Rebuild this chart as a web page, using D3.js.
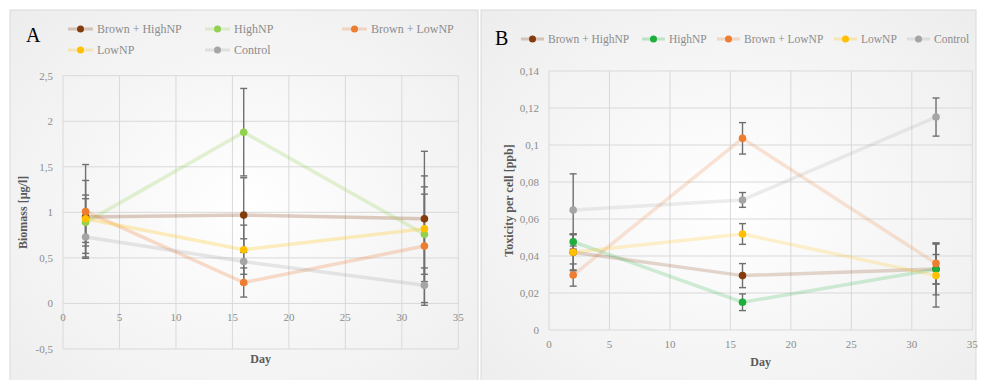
<!DOCTYPE html>
<html>
<head>
<meta charset="utf-8">
<script src="https://cdn.jsdelivr.net/npm/d3@7"></script>
<style>
	body { margin: 0; background: #fff; }
	text { font-family: "Liberation Serif", "DejaVu Serif", serif; }
</style>
</head>
<body>
<div id="chart"></div>
<script>
// sampling days
var days = [2, 16, 32];
var seriesNames = ["Brown + HighNP", "HighNP", "Brown + LowNP", "LowNP", "Control"];

// panel A - biomass [µg/l]
var bioBrownHigh = [0.95, 0.97, 0.93];
var bioHigh      = [0.89, 1.88, 0.76];
var bioBrownLow  = [1.01, 0.23, 0.63];
var bioLow       = [0.93, 0.59, 0.82];
var bioControl   = [0.73, 0.46, 0.20];
var bioErrBrownHigh = [0.40, 0.41, 0.74];
var bioErrHigh      = [0.26, 0.48, 0.44];
var bioErrBrownLow  = [0.515, 0.16, 0.65];
var bioErrLow       = [0.26, 0.27, 0.58];
var bioErrControl   = [0.22, 0.25, 0.19];

// panel B - toxicity per cell [ppb]
var toxBrownHigh = [0.042, 0.0294, 0.033];
var toxHigh      = [0.0477, 0.015, 0.0328];
var toxBrownLow  = [0.0297, 0.1036, 0.036];
var toxLow       = [0.042, 0.0519, 0.0294];
var toxControl   = [0.0649, 0.0703, 0.1151];
var toxErrBrownHigh = [0.0095, 0.0065, 0.014];
var toxErrHigh      = [0.004, 0.0045, 0.008];
var toxErrBrownLow  = [0.006, 0.0085, 0.011];
var toxErrLow       = [0.010, 0.0056, 0.017];
var toxErrControl   = [0.0195, 0.004, 0.0103];

var yTicksA = [-0.5, 0, 0.5, 1, 1.5, 2, 2.5];
var yTicksB = [0, 0.02, 0.04, 0.06, 0.08, 0.1, 0.12, 0.14];
var xTicks = [0, 5, 10, 15, 20, 25, 30, 35];

var colorsA = ["#843C0C", "#92D050", "#ED7D31", "#FFC000", "#A5A5A5"];
var colorsB = ["#843C0C", "#1DAF3A", "#ED7D31", "#FFC000", "#A5A5A5"];

var svg = d3.select("#chart")
	.append("svg")
	.attr("width", 984)
	.attr("height", 380);

var grad = svg.append("defs").append("radialGradient")
	.attr("id", "bg")
	.attr("cx", "50%").attr("cy", "50%").attr("r", "70%");
grad.append("stop").attr("offset", "0%").attr("stop-color", "#ffffff");
grad.append("stop").attr("offset", "100%").attr("stop-color", "#ededed");

var comma = v => (v + "").replace(".", ",");

function buildSeries(vals, errs, colors) {
	return seriesNames.map((name, i) => ({
		name: name,
		color: colors[i],
		points: days.map((d, j) => ({ day: d, v: vals[i][j], e: errs[i][j] }))
	}));
}

function panel(opt) {
	var g = svg.append("g");

	g.append("rect")
		.attr("x", opt.frame[0]).attr("y", 10)
		.attr("width", opt.frame[1] - opt.frame[0]).attr("height", 390)
		.attr("fill", "url(#bg)")
		.attr("stroke", "#d9d9d9");

	var x = d3.scaleLinear().domain([0, 35]).range(opt.xRange);
	var y = d3.scaleLinear().domain(opt.yDomain).range(opt.yRange);

	// grid
	g.selectAll(".hg")
		.data(opt.yTicks)
		.enter()
		.append("line")
		.attr("x1", x(0)).attr("x2", x(35))
		.attr("y1", d => y(d)).attr("y2", d => y(d))
		.attr("stroke", "#d9d9d9");
	g.selectAll(".vg")
		.data(xTicks)
		.enter()
		.append("line")
		.attr("x1", d => x(d)).attr("x2", d => x(d))
		.attr("y1", y(opt.yDomain[0])).attr("y2", y(opt.yDomain[1]))
		.attr("stroke", "#d9d9d9");

	// tick labels
	g.selectAll(".ytl")
		.data(opt.yTicks)
		.enter()
		.append("text")
		.attr("x", x(0) - 10)
		.attr("y", d => y(d) + 4)
		.text(d => comma(d))
		.style("font-size", 11)
		.style("text-anchor", "end")
		.attr("fill", "#8c8c8c");
	g.selectAll(".xtl")
		.data(xTicks)
		.enter()
		.append("text")
		.attr("x", d => x(d))
		.attr("y", y(0) + opt.xLabelDy)
		.text(d => d)
		.style("font-size", 11)
		.style("text-anchor", "middle")
		.attr("fill", "#8c8c8c");

	// axis titles
	g.append("text")
		.attr("x", (opt.xRange[0] + opt.xRange[1]) / 2)
		.attr("y", opt.dayY)
		.text("Day")
		.style("font-size", 12)
		.style("font-weight", "bold")
		.style("text-anchor", "middle")
		.attr("fill", "#595959");
	g.append("text")
		.attr("transform", "translate(" + opt.yTitleX + "," + ((opt.yRange[0] + opt.yRange[1]) / 2) + ") rotate(-90)")
		.text(opt.yTitle)
		.style("font-size", 12)
		.style("font-weight", "bold")
		.style("text-anchor", "middle")
		.attr("fill", "#595959");

	// panel letter
	g.append("text")
		.attr("x", opt.letterX).attr("y", opt.letterY)
		.text(opt.letter)
		.style("font-size", 20)
		.attr("fill", "#000");

	var line = d3.line().x(d => x(d.day)).y(d => y(d.v));

	g.selectAll(".series-line")
		.data(opt.series)
		.enter()
		.append("path")
		.attr("d", d => line(d.points))
		.attr("fill", "none")
		.attr("stroke", d => d.color)
		.attr("stroke-width", 3.5)
		.attr("stroke-opacity", opt.lineOpacity);

	var pts = opt.series.flatMap(s => s.points.map(p => Object.assign({ color: s.color }, p)));

	var eb = g.selectAll(".err")
		.data(pts)
		.enter()
		.append("g")
		.attr("stroke", "#6f6f6f")
		.attr("stroke-width", 1.4);
	eb.append("line")
		.attr("x1", d => x(d.day)).attr("x2", d => x(d.day))
		.attr("y1", d => y(d.v - d.e)).attr("y2", d => y(d.v + d.e));
	eb.append("line")
		.attr("x1", d => x(d.day) - 3.5).attr("x2", d => x(d.day) + 3.5)
		.attr("y1", d => y(d.v + d.e)).attr("y2", d => y(d.v + d.e));
	eb.append("line")
		.attr("x1", d => x(d.day) - 3.5).attr("x2", d => x(d.day) + 3.5)
		.attr("y1", d => y(d.v - d.e)).attr("y2", d => y(d.v - d.e));

	g.selectAll(".mk")
		.data(pts)
		.enter()
		.append("circle")
		.attr("cx", d => x(d.day))
		.attr("cy", d => y(d.v))
		.attr("r", 3.8)
		.attr("fill", d => d.color);

	// legend
	var lg = g.selectAll(".lg")
		.data(opt.series)
		.enter()
		.append("g")
		.attr("transform", (d, i) => "translate(" + opt.legendPos[i][0] + "," + opt.legendPos[i][1] + ")");
	lg.append("line")
		.attr("x1", 0).attr("x2", opt.symW)
		.attr("stroke", d => d.color)
		.attr("stroke-width", 3)
		.attr("stroke-opacity", 0.25);
	lg.append("circle")
		.attr("cx", opt.symW / 2)
		.attr("r", 3.5)
		.attr("fill", d => d.color);
	lg.append("text")
		.attr("x", opt.symW + 4)
		.attr("y", 4)
		.text(d => d.name)
		.style("font-size", opt.legendFont)
		.attr("fill", "#8c8c8c");
}

panel({
	frame: [10, 478],
	xRange: [63, 458.3],
	yDomain: [-0.5, 2.5],
	yRange: [349, 75.7],
	yTicks: yTicksA,
	xLabelDy: 18,
	dayY: 363,
	yTitle: "Biomass [µg/l]",
	yTitleX: 27,
	letter: "A",
	letterX: 26,
	letterY: 42,
	lineOpacity: 0.25,
	symW: 25,
	legendFont: 12,
	legendPos: [[68, 29], [205, 29], [342, 29], [68, 50], [205, 50]],
	series: buildSeries(
		[bioBrownHigh, bioHigh, bioBrownLow, bioLow, bioControl],
		[bioErrBrownHigh, bioErrHigh, bioErrBrownLow, bioErrLow, bioErrControl],
		colorsA)
});

panel({
	frame: [481, 976],
	xRange: [549, 972.3],
	yDomain: [0, 0.14],
	yRange: [330, 71],
	yTicks: yTicksB,
	xLabelDy: 18,
	dayY: 366,
	yTitle: "Toxicity per cell [ppb]",
	yTitleX: 513,
	letter: "B",
	letterX: 495,
	letterY: 45,
	lineOpacity: 0.2,
	symW: 23,
	legendFont: 11.5,
	legendPos: [[521, 39], [642, 39], [717, 39], [834, 39], [907, 39]],
	series: buildSeries(
		[toxBrownHigh, toxHigh, toxBrownLow, toxLow, toxControl],
		[toxErrBrownHigh, toxErrHigh, toxErrBrownLow, toxErrLow, toxErrControl],
		colorsB)
});
</script>
</body>
</html>
